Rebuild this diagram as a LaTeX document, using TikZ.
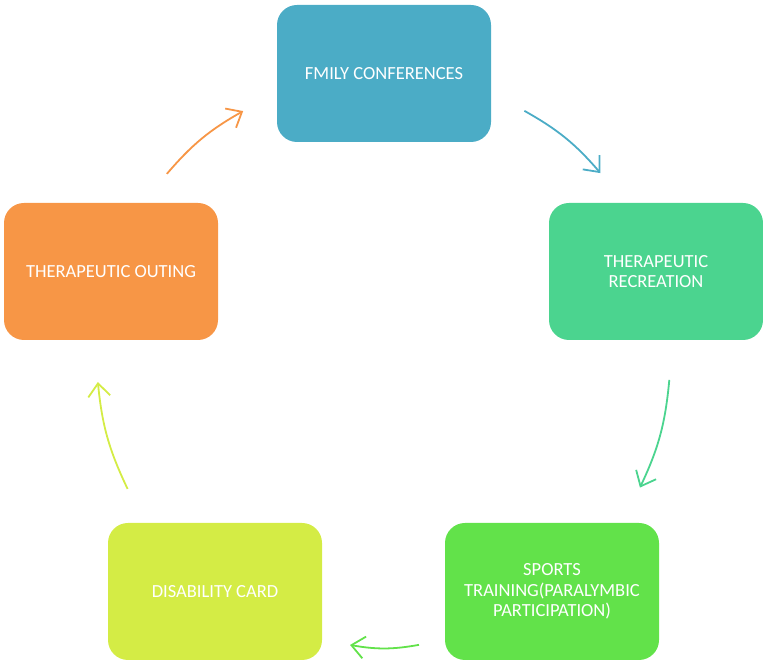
\documentclass[tikz,border=0pt]{standalone}
\usepackage{fontspec}
\setmainfont{Carlito}
\usetikzlibrary{arrows.meta}

\definecolor{confblue}{HTML}{4BACC6}
\definecolor{recgreen}{HTML}{4BD48F}
\definecolor{sportgreen}{HTML}{62E24A}
\definecolor{cardyellow}{HTML}{D4EC45}
\definecolor{outorange}{HTML}{F79646}

\begin{document}
\begin{tikzpicture}[
    x=1pt, y=1pt,
    >={Straight Barb[length=13pt,width=22pt]},
    box/.style={rounded corners=20pt, minimum width=214pt, minimum height=137pt,
        inner sep=0pt, align=center, text=white,
        font=\fontsize{18.5}{20.5}\selectfont},
    link/.style={->, line width=1.8pt, bend left=10}]

    \useasboundingbox (0,0) rectangle (763,660);
    \coordinate (hub) at (384,300);

    \node[box, fill=confblue] (fmily) at (384,586.5) {FMILY CONFERENCES};
    \node[box, fill=recgreen] (recreation) at (656,388.5) {THERAPEUTIC\\RECREATION};
    \node[box, fill=sportgreen] (sports) at (552,68.5) {SPORTS\\TRAINING(PARALYMBIC\\PARTICIPATION)};
    \node[box, fill=cardyellow] (card) at (215,68.5) {DISABILITY CARD};
    \node[box, fill=outorange] (outing) at (111,388.5) {THERAPEUTIC OUTING};

    % arrow ends on a ring round the hub
    \path (hub) ++(60.6:286) coordinate (fmily-out) (hub) ++(40.8:286) coordinate (rec-in);
    \path (hub) ++(-4:286) coordinate (rec-out) (hub) ++(-26.5:286) coordinate (sports-in);
    \path (hub) ++(-83:287) coordinate (sports-out) (hub) ++(-96.8:287) coordinate (card-in);
    \path (hub) ++(-153.3:287) coordinate (card-out) (hub) ++(184.4:287) coordinate (outing-in);
    \path (hub) ++(139.4:286) coordinate (outing-out) (hub) ++(119.5:286) coordinate (fmily-in);

    \draw[link, confblue] (fmily-out) to (rec-in);
    \draw[link, recgreen] (rec-out) to (sports-in);
    \draw[link, sportgreen] (sports-out) to (card-in);
    \draw[link, cardyellow] (card-out) to (outing-in);
    \draw[link, outorange] (outing-out) to (fmily-in);

\end{tikzpicture}
\end{document}
